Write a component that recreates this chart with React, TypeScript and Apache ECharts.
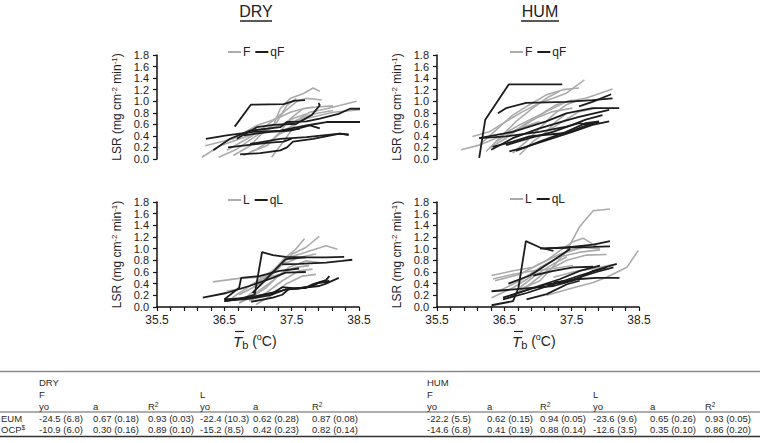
import React, { useEffect, useRef } from "react";
import * as echarts from "echarts";

const X_MIN = 35.5;
const X_MAX = 38.5;
const Y_MAX = 1.8;
const xLabelValues = [35.5, 36.5, 37.5, 38.5];

// DRY, F (grey) and qF (black)
const dryF = [
  [[36.17, 0.03], [36.44, 0.23], [36.74, 0.35], [37.04, 0.47], [37.34, 0.58], [37.53, 0.70], [37.73, 0.78]],
  [[36.22, 0.23], [36.64, 0.35], [36.99, 0.58], [37.29, 0.70], [37.49, 0.81], [37.68, 0.87], [37.83, 0.90]],
  [[36.42, 0.03], [36.69, 0.17], [36.99, 0.41], [37.24, 0.59], [37.34, 0.87], [37.49, 1.05], [37.68, 1.13], [37.83, 1.23], [37.93, 1.17]],
  [[36.54, 0.15], [36.89, 0.38], [37.14, 0.58], [37.39, 0.81], [37.58, 0.99], [37.73, 1.05], [37.96, 1.02]],
  [[36.64, 0.06], [36.89, 0.23], [37.09, 0.47], [37.29, 0.64], [37.44, 0.93], [37.58, 1.05]],
  [[36.89, 0.12], [37.14, 0.23], [37.34, 0.47], [37.49, 0.70], [37.68, 0.87], [37.88, 0.90], [38.13, 0.92]],
  [[37.21, 0.03], [37.34, 0.23], [37.49, 0.47], [37.63, 0.70], [37.78, 0.81], [38.03, 0.87], [38.48, 1.0]],
  [[36.94, 0.47], [37.34, 0.58], [37.73, 0.70], [38.13, 0.81], [38.68, 0.87]],
  [[36.79, 0.06], [36.99, 0.17], [37.24, 0.35], [37.39, 0.49], [37.58, 0.61], [37.73, 0.70]],
  [[37.14, 0.23], [37.29, 0.41], [37.44, 0.49], [37.58, 0.67], [37.83, 0.78], [38.13, 0.84]],
];
const dryQF = [
  [[36.66, 0.56], [36.90, 0.94], [37.39, 0.95], [37.56, 1.01], [37.71, 1.02]],
  [[36.23, 0.35], [36.54, 0.41], [36.94, 0.47], [37.39, 0.49], [37.63, 0.52]],
  [[36.34, 0.15], [36.59, 0.35], [36.89, 0.49], [37.34, 0.55], [37.44, 0.64], [37.73, 0.65], [37.93, 0.70], [38.21, 0.78], [38.38, 0.87], [38.58, 0.87]],
  [[36.56, 0.20], [37.14, 0.28], [37.39, 0.30], [37.51, 0.35]],
  [[36.74, 0.08], [37.04, 0.10], [37.34, 0.15], [37.44, 0.20], [37.53, 0.30], [37.83, 0.35], [38.23, 0.44], [38.36, 0.42]],
  [[36.69, 0.35], [36.99, 0.55], [37.24, 0.59], [37.58, 0.61], [37.81, 0.76], [37.93, 0.93], [37.91, 0.97]],
  [[36.79, 0.41], [37.19, 0.47], [37.49, 0.49], [37.78, 0.58], [37.93, 0.53]],
  [[37.34, 0.49], [37.73, 0.58], [38.03, 0.64], [38.55, 0.64]],
  [[36.89, 0.26], [37.34, 0.35], [37.73, 0.38], [38.23, 0.44], [38.36, 0.42]],
];

// HUM, F (grey) and qF (black)
const humF = [
  [[35.86, 0.16], [36.13, 0.24], [36.38, 0.36], [36.73, 0.53], [37.03, 0.65]],
  [[36.03, 0.39], [36.28, 0.47], [36.53, 0.65], [36.78, 0.82], [37.03, 0.97], [37.23, 1.05], [37.43, 1.14], [37.70, 1.37]],
  [[36.13, 0.24], [36.38, 0.50], [36.63, 0.76], [36.88, 0.94], [37.13, 1.11], [37.38, 1.20], [37.62, 1.23]],
  [[36.23, 0.13], [36.43, 0.36], [36.68, 0.65], [36.93, 0.88], [37.13, 1.05], [37.33, 1.17]],
  [[36.38, 0.30], [36.63, 0.47], [36.88, 0.65], [37.13, 0.82], [37.43, 0.99], [37.72, 1.05], [38.12, 1.21]],
  [[36.63, 0.10], [36.83, 0.30], [37.03, 0.53], [37.23, 0.76], [37.43, 0.94], [37.62, 1.02]],
  [[36.48, 0.42], [36.73, 0.59], [37.03, 0.76], [37.28, 0.94], [37.52, 1.02]],
  [[36.28, 0.19], [36.53, 0.36], [36.73, 0.53], [36.98, 0.71], [37.23, 0.82], [37.52, 0.88]],
  [[36.73, 0.07], [36.93, 0.30], [37.13, 0.47], [37.28, 0.65], [37.43, 0.79]],
  [[37.13, 0.47], [37.38, 0.65], [37.62, 0.82], [37.88, 0.88]],
];
const humQF = [
  [[36.13, 0.02], [36.22, 0.68], [36.57, 1.29], [37.37, 1.29]],
  [[36.41, 0.79], [36.53, 0.88], [36.83, 0.97], [37.43, 0.99], [37.82, 1.02], [38.12, 1.05]],
  [[37.62, 0.91], [37.82, 0.99], [38.10, 1.12]],
  [[36.13, 0.36], [36.63, 0.47], [37.13, 0.65], [37.43, 0.79], [37.82, 0.88], [38.22, 0.88]],
  [[36.31, 0.16], [36.63, 0.36], [37.03, 0.53], [37.38, 0.65], [37.62, 0.73], [38.07, 0.85]],
  [[36.53, 0.24], [36.88, 0.36], [37.23, 0.47], [37.52, 0.59], [37.72, 0.68], [37.97, 0.76]],
  [[36.68, 0.14], [37.03, 0.30], [37.43, 0.47], [37.72, 0.62], [37.92, 0.65]],
  [[36.58, 0.13], [36.83, 0.21], [37.23, 0.36], [37.52, 0.47], [37.82, 0.59], [38.07, 0.65]],
  [[36.13, 0.36], [36.53, 0.39], [37.03, 0.47], [37.43, 0.56], [37.62, 0.62], [37.72, 0.60], [37.92, 0.64]],
  [[36.33, 0.21], [36.63, 0.30], [36.88, 0.39], [37.13, 0.42], [37.43, 0.45], [37.82, 0.62]],
];

// DRY, L (grey) and qL (black)
const dryL = [
  [[36.72, 0.21], [37.02, 0.39], [37.22, 0.62], [37.41, 0.85], [37.56, 0.99], [37.69, 1.17]],
  [[36.82, 0.16], [37.12, 0.45], [37.32, 0.68], [37.51, 0.91], [37.71, 1.02], [37.91, 1.21]],
  [[36.92, 0.33], [37.22, 0.62], [37.46, 0.85], [37.71, 0.94], [38.01, 1.05], [38.18, 0.99]],
  [[36.62, 0.16], [36.92, 0.39], [37.17, 0.59], [37.36, 0.73], [37.61, 0.85], [37.86, 0.91]],
  [[36.72, 0.07], [36.97, 0.24], [37.22, 0.45], [37.46, 0.68], [37.71, 0.79], [37.91, 0.76]],
  [[36.53, 0.27], [36.82, 0.33], [37.02, 0.45], [37.32, 0.56], [37.56, 0.68], [37.76, 0.71]],
  [[36.87, 0.10], [37.12, 0.24], [37.36, 0.45], [37.61, 0.62], [37.81, 0.65]],
  [[36.97, 0.04], [37.22, 0.21], [37.41, 0.39], [37.66, 0.53], [37.86, 0.56]],
  [[36.33, 0.43], [36.72, 0.49], [37.02, 0.51], [37.32, 0.53]],
  [[36.72, 0.07], [36.92, 0.18], [37.12, 0.33], [37.27, 0.50]],
];
const dryQL = [
  [[36.18, 0.16], [36.53, 0.24], [36.87, 0.36], [37.22, 0.50], [37.41, 0.59], [37.71, 0.60]],
  [[37.36, 0.73], [37.61, 0.74], [38.01, 0.76], [38.25, 0.79], [38.40, 0.81]],
  [[36.50, 0.10], [36.72, 0.14], [36.95, 0.21], [37.06, 0.94], [37.22, 0.89], [37.41, 0.86], [37.71, 0.85]],
  [[36.92, 0.24], [37.41, 0.82], [37.71, 0.85], [38.01, 0.85], [38.28, 0.86]],
  [[36.50, 0.13], [36.72, 0.33], [36.75, 0.50], [37.02, 0.53], [37.32, 0.62], [37.61, 0.66]],
  [[36.50, 0.13], [36.87, 0.16], [37.22, 0.24], [37.36, 0.34], [37.56, 0.32], [37.71, 0.33], [37.81, 0.39], [38.01, 0.46], [38.06, 0.53]],
  [[36.50, 0.10], [36.92, 0.17], [37.32, 0.27], [37.41, 0.30], [37.66, 0.33], [37.91, 0.36], [38.01, 0.40], [38.20, 0.50]],
  [[36.90, 0.09], [37.22, 0.16], [37.36, 0.21], [37.46, 0.31], [37.61, 0.32], [37.81, 0.36], [37.91, 0.42], [38.06, 0.43]],
  [[36.53, 0.11], [36.87, 0.14], [37.17, 0.20], [37.41, 0.30], [37.71, 0.33], [37.86, 0.40], [38.06, 0.45]],
];

// HUM, L (grey) and qL (black)
const humL = [
  [[36.73, 0.30], [37.03, 0.45], [37.23, 0.70], [37.43, 0.97], [37.62, 1.38], [37.82, 1.65], [38.07, 1.68]],
  [[37.13, 0.20], [37.43, 0.30], [37.82, 0.42], [38.02, 0.51], [38.32, 0.68], [38.49, 0.97]],
  [[36.31, 0.54], [36.63, 0.62], [36.93, 0.68], [37.13, 0.80], [37.33, 0.97], [37.52, 1.12], [37.67, 1.18], [37.87, 1.04]],
  [[36.36, 0.45], [36.73, 0.56], [37.03, 0.74], [37.33, 0.91], [37.62, 1.02], [37.92, 1.00]],
  [[36.31, 0.16], [36.63, 0.33], [36.88, 0.51], [37.13, 0.74], [37.43, 0.94], [37.72, 1.04]],
  [[36.41, 0.27], [36.73, 0.45], [37.03, 0.68], [37.33, 0.86], [37.62, 0.94], [37.92, 0.98]],
  [[36.58, 0.16], [36.88, 0.39], [37.13, 0.62], [37.43, 0.80], [37.72, 0.89], [38.02, 0.90]],
  [[37.23, 0.51], [37.52, 0.60], [37.82, 0.66], [38.12, 0.73]],
  [[36.73, 0.33], [36.98, 0.56], [37.23, 0.74], [37.43, 0.86]],
  [[36.33, 0.48], [36.63, 0.56], [36.93, 0.62], [37.23, 0.66], [37.52, 0.71]],
];
const humQL = [
  [[36.31, 0.03], [36.63, 0.10], [36.71, 0.33], [36.82, 1.13], [37.03, 1.02], [37.23, 0.96]],
  [[37.03, 1.00], [37.43, 1.02], [37.82, 1.07], [38.07, 1.13]],
  [[37.08, 1.00], [37.43, 1.02], [37.82, 1.03], [38.07, 1.04]],
  [[36.56, 0.40], [36.88, 0.54], [37.23, 0.80], [37.48, 1.00]],
  [[36.31, 0.27], [36.73, 0.31], [37.23, 0.36], [37.52, 0.45], [37.82, 0.62], [38.17, 0.74]],
  [[36.48, 0.16], [36.78, 0.27], [37.13, 0.39], [37.38, 0.42], [37.62, 0.51], [37.87, 0.60], [38.12, 0.68]],
  [[36.48, 0.13], [36.83, 0.24], [37.23, 0.39], [37.62, 0.54], [38.02, 0.68]],
  [[36.58, 0.19], [36.93, 0.33], [37.33, 0.48], [37.62, 0.62], [37.92, 0.71]],
  [[36.93, 0.54], [37.23, 0.62], [37.52, 0.68], [37.82, 0.69]],
  [[37.23, 0.42], [37.43, 0.45], [37.62, 0.48], [37.87, 0.50], [38.21, 0.50]],
  [[36.83, 0.13], [37.13, 0.22], [37.43, 0.39], [37.62, 0.45]],
];

// table
const tableGroups = ["DRY", "HUM"];
const tableSubGroups = ["F", "L", "F", "L"];
const tableParams = ["yo", "a", "R2", "yo", "a", "R2", "yo", "a", "R2", "yo", "a", "R2"];
const rowLabels = ["EUM", "OCP"];
const eumValues = ["-24.5 (6.8)", "0.67 (0.18)", "0.93 (0.03)", "-22.4 (10.3)", "0.62 (0.28)", "0.87 (0.08)", "-22.2 (5.5)", "0.62 (0.15)", "0.94 (0.05)", "-23.6 (9.6)", "0.65 (0.26)", "0.93 (0.05)"];
const ocpValues = ["-10.9 (6.0)", "0.30 (0.16)", "0.89 (0.10)", "-15.2 (8.5)", "0.42 (0.23)", "0.82 (0.14)", "-14.6 (6.8)", "0.41 (0.19)", "0.88 (0.14)", "-12.6 (3.5)", "0.35 (0.10)", "0.86 (0.20)"];

const FONT = "Liberation Sans, Arial, Helvetica, sans-serif";
const GREY = "#ababab";
const BLACK = "#1c1c1c";

export default function App() {
  const ref = useRef<HTMLDivElement>(null);
  useEffect(() => {
    const chart = echarts.init(ref.current!, null, { renderer: "svg" });

    const grids = [
      { left: 157, top: 55, width: 201, height: 104 },
      { left: 437, top: 55, width: 201, height: 104 },
      { left: 157, top: 202, width: 202, height: 105 },
      { left: 437, top: 202, width: 202, height: 105 },
    ];
    const panels = [
      { grey: dryF, black: dryQF, g: "F", b: "qF" },
      { grey: humF, black: humQF, g: "F", b: "qF" },
      { grey: dryL, black: dryQL, g: "L", b: "qL" },
      { grey: humL, black: humQL, g: "L", b: "qL" },
    ];

    const xAxes = grids.map((_, i) => ({
      type: "value",
      gridIndex: i,
      show: i >= 2,
      min: 0,
      max: X_MAX - X_MIN,
      interval: 0.2,
      axisLine: { show: true, onZero: false, lineStyle: { color: "#111", width: 1.5 } },
      axisTick: { show: true, length: 4, inside: false, lineStyle: { color: "#111", width: 1.2 } },
      splitLine: { show: false },
      axisLabel: {
        color: "#222",
        fontSize: 12,
        fontFamily: FONT,
        margin: 7,
        showMinLabel: true,
        showMaxLabel: true,
        hideOverlap: false,
        formatter: (v: number) => {
          const t = v + X_MIN;
          const hit = xLabelValues.find((l) => Math.abs(l - t) < 1e-6);
          return hit !== undefined ? hit.toFixed(1) : "";
        },
      },
    }));

    const yAxes = grids.map((_, i) => ({
      type: "value",
      gridIndex: i,
      min: 0,
      max: Y_MAX,
      interval: 0.2,
      axisLine: { show: true, lineStyle: { color: "#111", width: 1.5 } },
      axisTick: { show: true, length: 4, inside: false, lineStyle: { color: "#111", width: 1.2 } },
      splitLine: { show: false },
      axisLabel: {
        color: "#222",
        fontSize: 11,
        lineHeight: 11,
        fontFamily: FONT,
        margin: 8,
        showMinLabel: true,
        showMaxLabel: true,
        hideOverlap: false,
        formatter: (v: number) => v.toFixed(1),
      },
      name: "LSR (mg cm{sup|-2} min{sup|-1})",
      nameLocation: "middle",
      nameRotate: 90,
      nameGap: 33,
      nameTextStyle: {
        color: "#222",
        fontSize: 12,
        fontFamily: FONT,
        lineHeight: 14,
        rich: { sup: { fontSize: 8, fontFamily: FONT, color: "#222", lineHeight: 8, verticalAlign: "top" } },
      },
    }));

    const series: any[] = [];
    panels.forEach((p, i) => {
      p.grey.forEach((line) => {
        series.push({
          type: "line",
          name: p.g,
          xAxisIndex: i,
          yAxisIndex: i,
          data: line.map(([t, v]) => [t - X_MIN, v]),
          symbol: "none",
          clip: false,
          silent: true,
          lineStyle: { color: GREY, width: 1.6 },
          itemStyle: { color: GREY },
        });
      });
    });
    panels.forEach((p, i) => {
      p.black.forEach((line) => {
        series.push({
          type: "line",
          name: p.b,
          xAxisIndex: i,
          yAxisIndex: i,
          data: line.map(([t, v]) => [t - X_MIN, v]),
          symbol: "none",
          clip: false,
          silent: true,
          lineStyle: { color: BLACK, width: 1.8 },
          itemStyle: { color: BLACK },
        });
      });
    });

    const legendPos = [
      { left: 228, top: 46, data: ["F", "qF"] },
      { left: 510, top: 46, data: ["F", "qF"] },
      { left: 228, top: 194, data: ["L", "qL"] },
      { left: 510, top: 193, data: ["L", "qL"] },
    ];
    const legends = legendPos.map((l) => ({
      left: l.left,
      top: l.top,
      data: l.data,
      selectedMode: false,
      icon: "rect",
      itemWidth: 13,
      itemHeight: 2,
      itemGap: 5,
      padding: 0,
      textStyle: { color: "#222", fontSize: 12, fontFamily: FONT, padding: [0, 0, 0, -3] },
    }));

    const graphics: any[] = [];
    // panel titles
    [
      { t: "DRY", x: 256, x1: 240, x2: 272 },
      { t: "HUM", x: 540, x1: 521, x2: 559 },
    ].forEach((h) => {
      graphics.push({
        type: "text",
        x: h.x,
        y: 11,
        style: { text: h.t, fontSize: 16, fontFamily: FONT, fill: "#222", align: "center", verticalAlign: "middle" },
      });
      graphics.push({
        type: "line",
        shape: { x1: h.x1, y1: 21, x2: h.x2, y2: 21 },
        style: { stroke: "#222", lineWidth: 1.5 },
      });
    });
    // x axis names
    [233, 512].forEach((x0) => {
      graphics.push({
        type: "text",
        x: x0,
        y: 341,
        style: {
          text: "{t|T}{b|b} ({s|o}C)",
          fontSize: 14,
          fontFamily: FONT,
          fill: "#222",
          align: "left",
          verticalAlign: "middle",
          lineHeight: 18,
          rich: {
            t: { fontSize: 15, fontStyle: "italic", fontFamily: FONT, fill: "#222", lineHeight: 18 },
            b: { fontSize: 11, fontFamily: FONT, fill: "#222", lineHeight: 9, verticalAlign: "bottom" },
            s: { fontSize: 9, fontFamily: FONT, fill: "#222", lineHeight: 9, verticalAlign: "top" },
          },
        },
      });
      graphics.push({
        type: "line",
        shape: { x1: x0 + 2, y1: 331.5, x2: x0 + 11, y2: 331.5 },
        style: { stroke: "#222", lineWidth: 1.2 },
      });
    });

    // table
    const colX = [39, 93, 148, 200, 253, 312, 427, 487, 540, 593, 650, 705];
    const tStyle = (text: string, x: number, y: number) => ({
      type: "text",
      x,
      y,
      style: {
        text,
        fontSize: 9.5,
        fontFamily: FONT,
        fill: "#2a2a2a",
        align: "left",
        verticalAlign: "middle",
        lineHeight: 11,
        rich: { s: { fontSize: 6.5, fontFamily: FONT, fill: "#2a2a2a", lineHeight: 6, verticalAlign: "top" } },
      },
    });
    graphics.push({ type: "line", shape: { x1: 0, y1: 371.5, x2: 760, y2: 371.5 }, style: { stroke: "#8a8a8a", lineWidth: 1.6 } });
    graphics.push({ type: "line", shape: { x1: 0, y1: 412, x2: 760, y2: 412 }, style: { stroke: "#333", lineWidth: 0.8 } });
    graphics.push({ type: "line", shape: { x1: 0, y1: 436.5, x2: 760, y2: 436.5 }, style: { stroke: "#333", lineWidth: 1.4 } });
    graphics.push(tStyle(tableGroups[0], colX[0], 382));
    graphics.push(tStyle(tableGroups[1], colX[6], 382));
    tableSubGroups.forEach((s, i) => graphics.push(tStyle(s, colX[i * 3], 394)));
    tableParams.forEach((p, i) => graphics.push(tStyle(p === "R2" ? "R{s|2}" : p, colX[i], 406)));
    graphics.push(tStyle(rowLabels[0], 1, 418));
    graphics.push(tStyle(rowLabels[1] + "{s|$}", 1, 429));
    eumValues.forEach((v, i) => graphics.push(tStyle(v, colX[i], 418)));
    ocpValues.forEach((v, i) => graphics.push(tStyle(v, colX[i], 429)));

    chart.setOption({
      animation: false,
      backgroundColor: "#ffffff",
      grid: grids,
      xAxis: xAxes,
      yAxis: yAxes,
      legend: legends,
      series,
      graphic: graphics,
    });
    return () => chart.dispose();
  }, []);
  return <div ref={ref} style={{ position: "fixed", left: 0, top: 0, width: 760, height: 443 }} />;
}
